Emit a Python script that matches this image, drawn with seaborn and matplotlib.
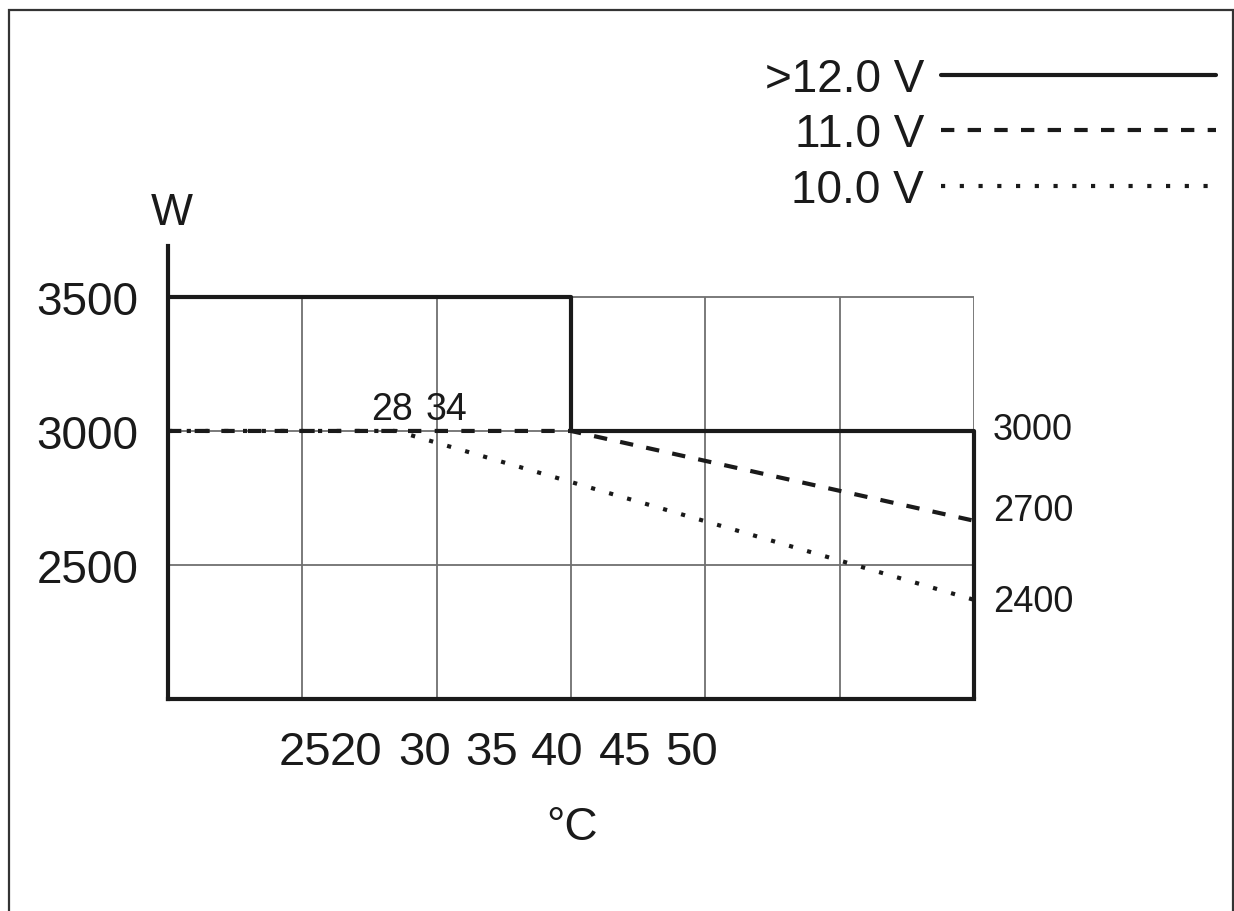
import matplotlib
matplotlib.use("Agg")
import matplotlib.pyplot as plt
from matplotlib.patches import Rectangle
import seaborn as sns
import pandas as pd

# derating curves: temperature (°C scale units) vs power (W)
temp_12v = [10, 40, 40, 70, 70]
power_12v = [3500, 3500, 3000, 3000, 2000]
temp_11v = [10, 40, 70]
power_11v = [3000, 3000, 2665]
temp_10v = [10, 27, 70]
power_10v = [3000, 3000, 2370]

series_labels = [">12.0 V", "11.0 V", "10.0 V"]

grid_x = [20, 30, 40, 50, 60, 70]
grid_y = [2500, 3000, 3500]
minor_ticks_x = [10, 20, 30, 40, 50, 60, 70]
ytick_values = [2500, 3000, 3500]
xtick_labels = ["25", "20", "30", "35", "40", "45", "50"]
end_labels = ["3000", "2700", "2400"]
knee_labels = ["28", "34"]

# where the (oddly placed) labels sit in the original figure
xtick_label_pos = [20.2, 24.0, 29.1, 34.1, 39.0, 44.0, 49.0]
end_label_pos = [3005, 2705, 2365]
knee_label_pos = [26.7, 30.7]

sns.set_style("white")
plt.rcParams["font.family"] = ["Liberation Sans", "DejaVu Sans"]

fig = plt.figure(figsize=(12.34, 9.12), dpi=100)
ax = fig.add_axes([168 / 1234, 1 - 700 / 912, (974 - 168) / 1234, (700 - 247) / 912])
ax.set_xlim(10, 70)
ax.set_ylim(2000, 3690)

# grid, limited to the 2000..3500 / 10..70 box
ax.vlines(grid_x, 2000, 3500, color="#707070", lw=1.3, zorder=1)
ax.hlines(grid_y, 10, 70, color="#707070", lw=1.3, zorder=1)

df12 = pd.DataFrame({"temp": temp_12v, "power": power_12v})
df11 = pd.DataFrame({"temp": temp_11v, "power": power_11v})
df10 = pd.DataFrame({"temp": temp_10v, "power": power_10v})

sns.lineplot(data=df12, x="temp", y="power", sort=False, estimator=None,
             color="#1a1a1a", lw=3, label=series_labels[0], ax=ax, zorder=3)
sns.lineplot(data=df11, x="temp", y="power", sort=False, estimator=None,
             color="#1a1a1a", lw=3, ax=ax, zorder=3, label=series_labels[1])
sns.lineplot(data=df10, x="temp", y="power", sort=False, estimator=None,
             color="#1a1a1a", lw=3, ax=ax, zorder=3, label=series_labels[2])
lines = ax.get_lines()
lines[1].set_dashes((3.2, 3.2))
lines[2].set_dashes((1.0, 3.5))
for ln in lines:
    ln.set_clip_on(False)

for sp in ["top", "right"]:
    ax.spines[sp].set_visible(False)
for sp in ["left", "bottom"]:
    ax.spines[sp].set_linewidth(3)
    ax.spines[sp].set_color("#1a1a1a")
    ax.spines[sp].set_zorder(4)

ax.set_yticks(ytick_values)
ax.set_yticklabels([str(v) for v in ytick_values])
ax.tick_params(axis="y", direction="inout", length=27, width=2.2, color="#2a2a2a",
               pad=8, labelsize=33, labelcolor="#1a1a1a")

ax.set_xticks(xtick_label_pos)
ax.set_xticklabels(xtick_labels)
ax.set_xticks(minor_ticks_x, minor=True)
ax.tick_params(axis="x", which="major", length=0, pad=22, labelsize=34,
               labelcolor="#1a1a1a")
ax.tick_params(axis="x", which="minor", direction="inout", length=25, width=2,
               color="#2a2a2a")
ax.set_xlabel("")
ax.set_ylabel("")

# axis titles
ax.text(10.3, 3772, "W", fontsize=32, ha="center", va="baseline",
        color="#1a1a1a", clip_on=False)
ax.text(40.1, 1478, "°C", fontsize=33, ha="center", va="baseline",
        color="#1a1a1a", clip_on=False)

for txt, yv in zip(end_labels, end_label_pos):
    ax.text(71.4, yv, txt, fontsize=26, ha="left", va="center",
            color="#1a1a1a", clip_on=False)
for txt, xv in zip(knee_labels, knee_label_pos):
    ax.text(xv, 3045, txt, fontsize=27, ha="center", va="baseline",
            color="#1a1a1a", clip_on=False)

leg = ax.legend(loc="upper right", bbox_to_anchor=(1216 / 1234, 1 - 58 / 912),
                bbox_transform=fig.transFigure, frameon=False, markerfirst=False,
                alignment="right", fontsize=33, handlelength=6.0,
                handletextpad=0.37, labelspacing=0.25, borderpad=0,
                borderaxespad=0)
for t in leg.get_texts():
    t.set_color("#1a1a1a")

# outer frame of the picture
fig.patches.append(Rectangle((9 / 1234, -0.05), (1233 - 9) / 1234, 1 - 11 / 912 + 0.05,
                             transform=fig.transFigure, fill=False,
                             edgecolor="#333333", lw=1.6))

fig.savefig("out.png", dpi=100)
